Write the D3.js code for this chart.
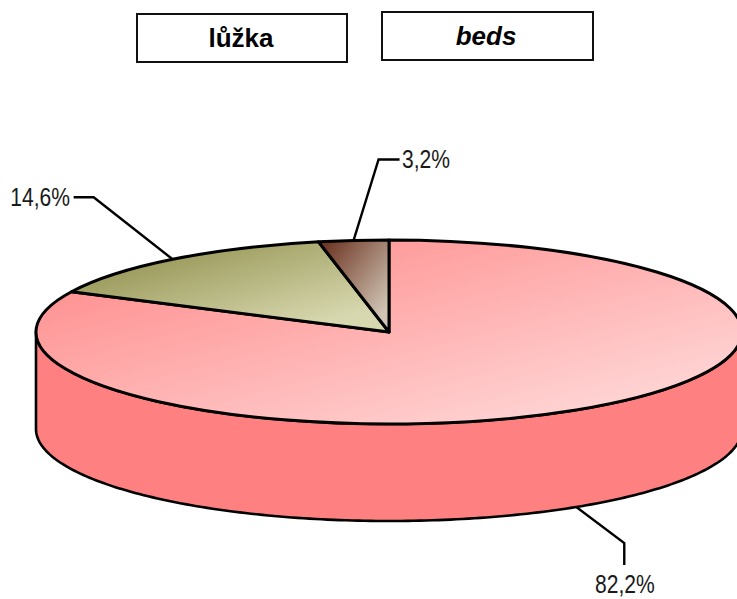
<!DOCTYPE html>
<html><head><meta charset="utf-8">
<script src="https://cdnjs.cloudflare.com/ajax/libs/d3/7.8.5/d3.min.js"></script>
<style>html,body{margin:0;background:#fff;overflow:hidden}svg{display:block}
.lab{font-family:"Liberation Sans",Arial,sans-serif;font-size:26px;fill:#1a1a1a}
.ttl{font-family:"Liberation Sans",Arial,sans-serif;font-size:26px;font-weight:bold;fill:#000;text-anchor:middle}
</style></head><body><script>
const categories=["a","b","c"];
const values=[82.2,14.6,3.2];
const labels=["82,2%","14,6%","3,2%"];
const titles=["lůžka","beds"];
const gradStops=[["#ff8585","#ffe0e0"],["#868640","#d8d8b0"],["#662a18","#d0c4b4"]];

const W=737,H=599,cx=389,cy=332,rx=353,ry=92,depth=97;
const svg=d3.select("body").append("svg").attr("width",W).attr("height",H);
const defs=svg.append("defs");
gradStops.forEach((g,i)=>{
  const lg=defs.append("linearGradient").attr("id","g"+i).attr("x1",0).attr("y1",0).attr("x2",1).attr("y2",1);
  lg.append("stop").attr("offset",0).attr("stop-color",g[0]);
  lg.append("stop").attr("offset",i?0.85:1).attr("stop-color",g[1]);
});
const boxes=[{x:137,y:14,w:210,h:48,tx:241,ty:47,style:"normal"},{x:382,y:12,w:211,h:48,tx:486,ty:45,style:"italic"}];
boxes.forEach((b,i)=>{
  svg.append("rect").attr("x",b.x).attr("y",b.y).attr("width",b.w).attr("height",b.h).attr("fill","#fff").attr("stroke","#111").attr("stroke-width",2);
  svg.append("text").attr("class","ttl").attr("x",b.tx).attr("y",b.ty).style("font-style",b.style).text(titles[i]);
});
const pie=d3.pie().sort(null).value(d=>d)(values);
const px=a=>cx+rx*Math.sin(a), py=a=>cy-ry*Math.cos(a);
const arcPts=d3.range(90,270.5,1).map(d=>d*Math.PI/180);
const upper=arcPts.map(a=>[px(a),py(a)]);
const lower=arcPts.map(a=>[px(a),py(a)+depth]).reverse();
svg.append("path").attr("d",d3.line()(upper.concat(lower))+"Z").attr("fill","#ff8080").attr("stroke","#000").attr("stroke-width",2.6).attr("stroke-linejoin","round");
const arc=d3.arc().innerRadius(0).outerRadius(rx);
const g=svg.append("g").attr("transform",`translate(${cx},${cy}) scale(1,${ry/rx})`);
g.selectAll("path").data(pie).join("path").attr("d",arc)
  .attr("fill",(d,i)=>`url(#g${i})`).attr("stroke","#000").attr("stroke-width",3)
  .attr("stroke-linejoin","round").attr("vector-effect","non-scaling-stroke");
const leaderOff=[[[48,36],[48,58]],[[-79,-62],[-99,-62]],[[25,-81],[46,-81]]];
const labelPos=[[595,593,"start"],[70,206,"end"],[402,168,"start"]];
const narrow=0.81;
pie.forEach((d,i)=>{
  const a=(d.startAngle+d.endAngle)/2;
  const s=[px(a),py(a)+(i===0?depth:0)];
  const pts=[s].concat(leaderOff[i].map(o=>[s[0]+o[0],s[1]+o[1]]));
  svg.append("path").attr("d",d3.line()(pts)).attr("fill","none").attr("stroke","#000").attr("stroke-width",2.4);
  svg.append("text").attr("class","lab").attr("transform",`translate(${labelPos[i][0]},${labelPos[i][1]}) scale(${narrow},1)`).attr("text-anchor",labelPos[i][2]).text(labels[i]);
});
</script></body></html>
